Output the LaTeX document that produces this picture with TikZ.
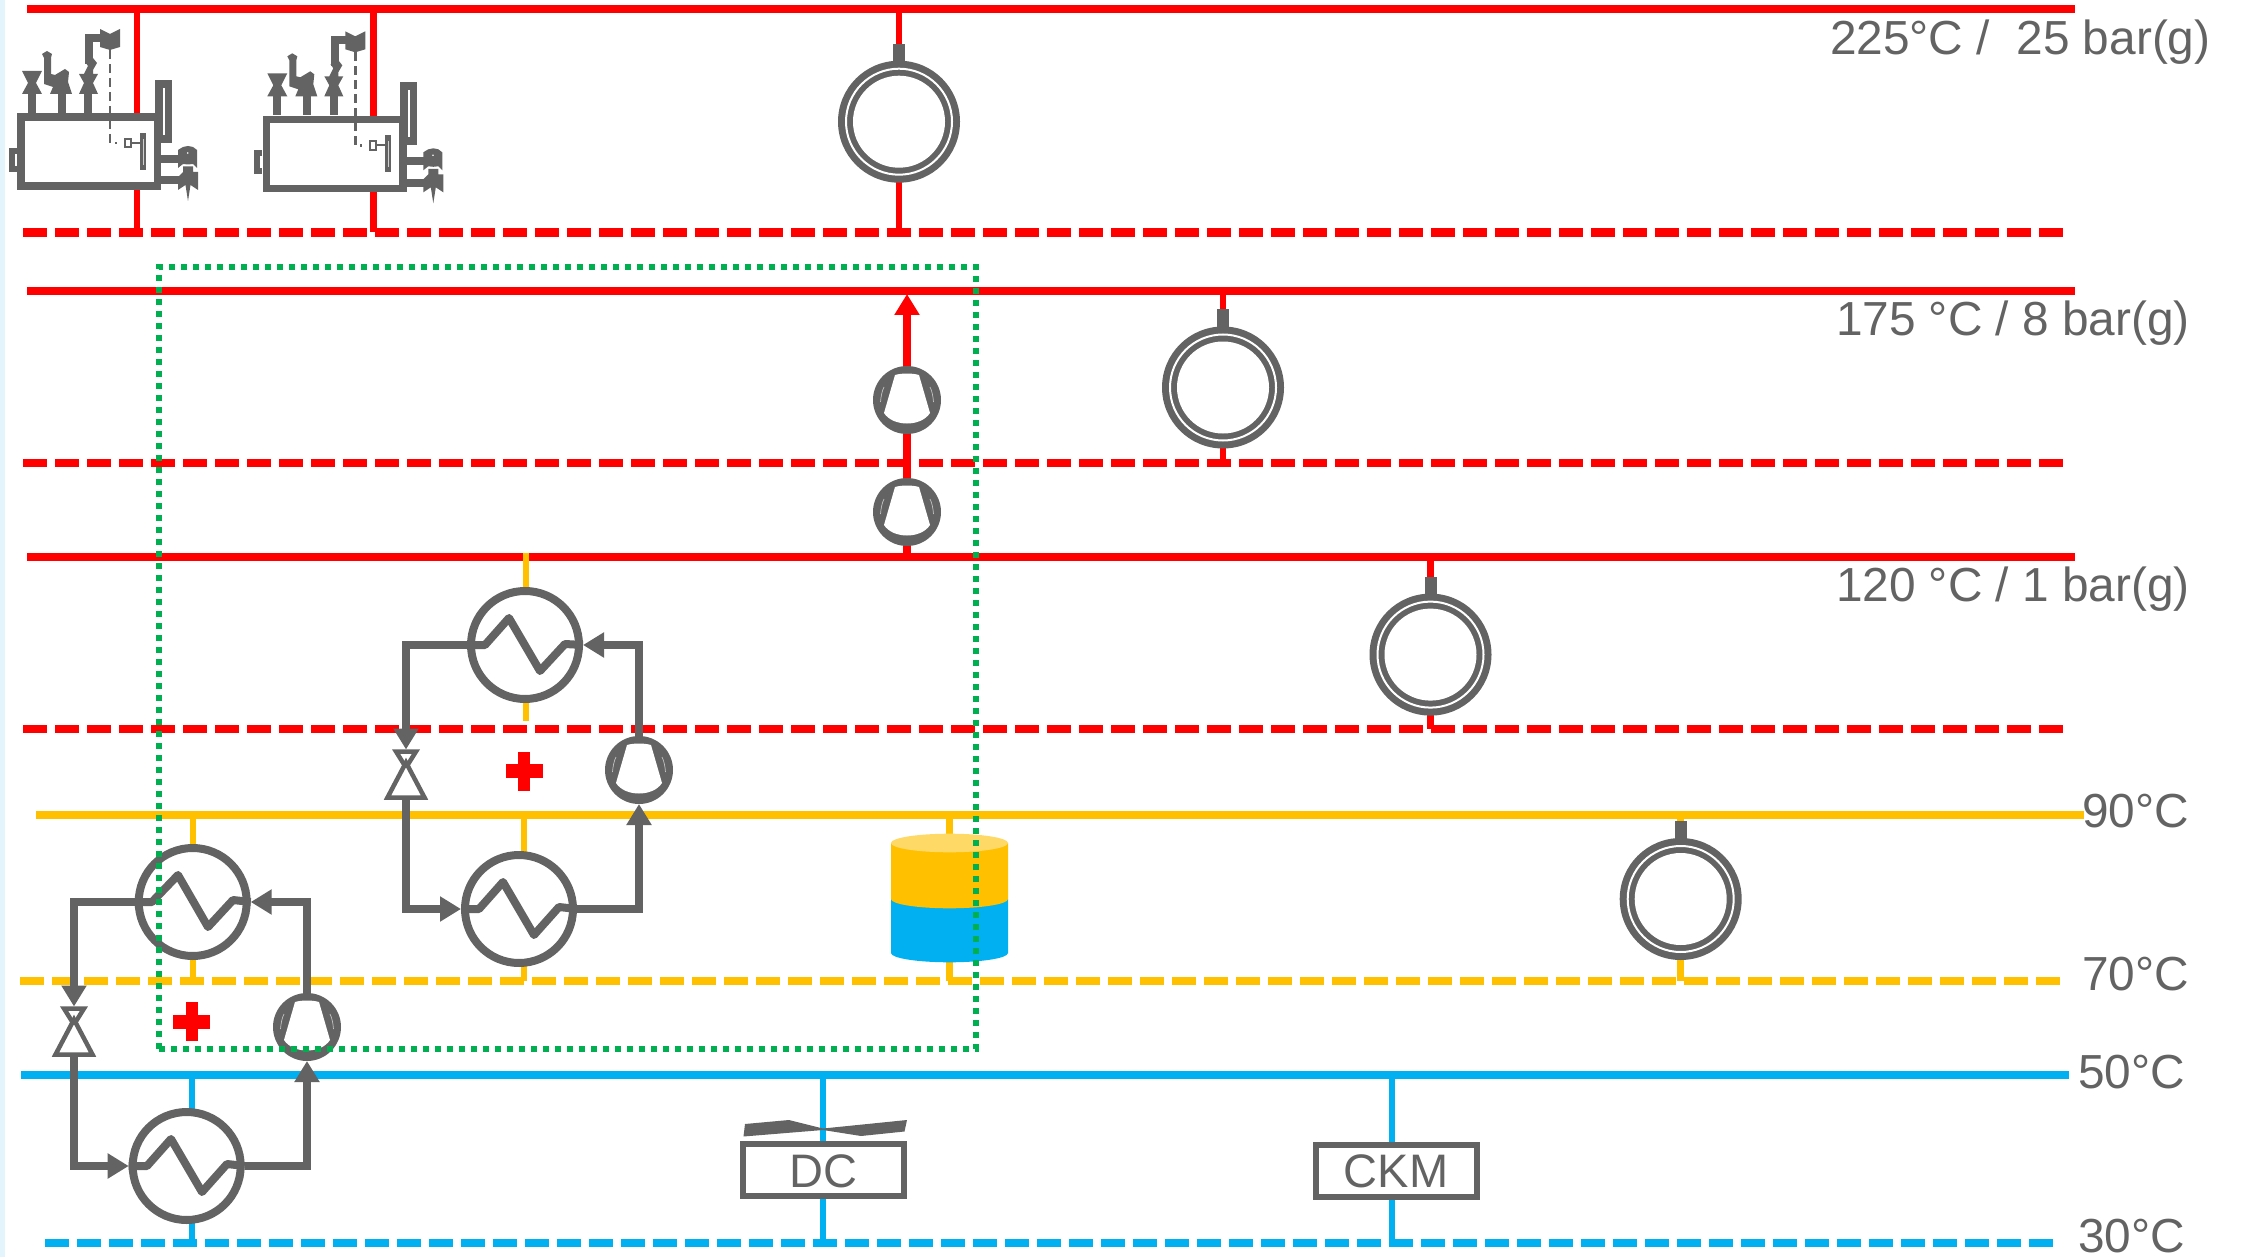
\documentclass[tikz,border=0pt]{standalone}
\usepackage{fontspec}
\setmainfont{Liberation Sans}
\usetikzlibrary{arrows.meta,calc}
\definecolor{cgray}{HTML}{636363}
\definecolor{cred}{HTML}{FF0000}
\definecolor{corange}{HTML}{FFC000}
\definecolor{cblue}{HTML}{00B0F0}
\definecolor{cgreen}{HTML}{00B050}
\definecolor{clight}{HTML}{FFD966}
\definecolor{cstrip}{HTML}{E3F4FC}
\tikzset{
  main/.style={line width=8.6pt},
  dsh/.style={line width=8.6pt,dash pattern=on 24pt off 8pt},
  stem/.style={line width=6.5pt},
  pipe/.style={draw=cgray,line width=8pt},
  arrowpipe/.style={pipe,-{Triangle[length=21pt,width=24pt]}},
  zig/.style={pipe,line join=round},
  hxnode/.style={circle,draw=cgray,fill=white,line width=8pt,minimum size=108pt,inner sep=0pt},
  compnode/.style={circle,fill=cgray,minimum size=68pt,inner sep=0pt,outer sep=0pt},
  drumnode/.style={circle,fill=cgray,minimum size=122pt,inner sep=0pt,outer sep=0pt},
  valvebox/.style={rectangle,minimum width=40pt,minimum height=50pt,inner sep=0pt,outer sep=0pt},
  valveline/.style={draw=cgray,line width=4.5pt,fill=white,line join=miter},
  lab/.style={anchor=base west,inner sep=0pt,outer sep=0pt,text=cgray,font=\fontsize{47.8}{50}\selectfont},
  boxnode/.style={draw=cgray,fill=white,line width=6pt,minimum height=52pt,minimum width=161pt,inner sep=0pt,text=cgray,text height=34pt,text depth=0pt,font=\fontsize{47}{50}\selectfont},
  gfill/.style={fill=cgray,draw=none},
  boilerbody/.style={draw=cgray,fill=white,line width=7.5pt,minimum width=136.5pt,minimum height=69pt,inner sep=0pt,outer sep=0pt},
}
% compressor internals
\newcommand{\compinner}[1]{%
  \begin{scope}[shift={(#1.center)}]
    \fill[white] (-12,-25) .. controls (-5,-27) and (5,-27) .. (12,-25) -- (23,13)
      .. controls (14,27) and (-14,27) .. (-23,13) -- cycle;
    \draw[white!60!cgray,line width=0.7pt] (-26.5,2) .. controls (-26,-4) and (-25,-9) .. (-23,-13);
    \draw[white!60!cgray,line width=0.7pt] (26.5,2) .. controls (26,-4) and (25,-9) .. (23,-13);
  \end{scope}}
% steam drum
\newcommand{\drumdraw}[3]{%
  \node[drumnode] (#1) at (#2,#3) {};
  \draw[white,line width=2pt] (#1.center) circle (53pt);
  \fill[white] (#1.center) circle (46pt);
  \fill[cgray] ($(#1.north)+(-6,3)$) rectangle ($(#1.north)+(6,-17)$);}
% expansion valve
\newcommand{\valvedraw}[1]{%
  \begin{scope}[shift={(#1.center)}]
    \path[valveline] (-10,-23) -- (10,-23) -- (0,-7) -- cycle;
    \path[valveline] (0,-12) -- (18.5,23) -- (-18.5,23) -- cycle;
  \end{scope}}
% plus sign
\newcommand{\plusdraw}[2]{%
  \fill[cred] (#1-6,#2-19.5) rectangle (#1+6,#2+19.5);
  \fill[cred] (#1-18.5,#2-7) rectangle (#1+18.5,#2+7);}
% boiler
\newcommand{\boilerdraw}[1]{%
  \node[boilerbody] (#1) at (89.25,151.5) {};
  % right tall box
  \fill[cgray] (155,80) rectangle (172,143);
  \fill[white] (162.5,88) rectangle (164.7,135);
  % left tab
  \fill[cgray] (9,148) rectangle (17,172);
  \fill[white] (15,154) rectangle (16.6,166);
  % top stubs
  \fill[cgray] (28,94) rectangle (36,113);
  \fill[cgray] (57.5,94) rectangle (65.5,113);
  \fill[cgray] (84.3,94) rectangle (92.3,113);
  % first valve
  \path[gfill] (22,71) -- (42,71) -- (36,83) -- (42,94) -- (22,94) -- (28,83) -- cycle;
  % second valve
  \path[gfill] (44,58) -- (42,54) -- (47,51) -- (52,54) -- (51,58) -- (51,74) -- (55,75) -- (65,69) -- (69,72) -- (68,82) -- (72,94) -- (50,94) -- (53,87) -- (44,84) -- cycle;
  % third valve with riser
  \path[gfill] (85.3,62) -- (93,58) -- (97,63) -- (93,70) -- (93,74) -- (98,74) -- (93,83) -- (98,94) -- (79,94) -- (84,83) -- (79,74) -- (84,74) -- (88,66) -- cycle;
  \draw[cgray,line width=8pt] (89.3,64) -- (89.3,38) -- (101,38);
  \path[gfill] (100,29) -- (110,34) -- (120,29) -- (120,47) -- (110,50) -- (100,47) -- cycle;
  % sensor line
  \draw[cgray,line width=2.5pt,dash pattern=on 9pt off 5pt] (110,50) -- (110,143) -- (117,143);
  \draw[cgray,line width=2pt] (125,139) rectangle (130.5,147.5);
  \draw[cgray,line width=2pt] (130.5,143) -- (140,143);
  \fill[cgray] (140,133) rectangle (146,170);
  \fill[white!70!cgray] (142.6,139) rectangle (143.4,165);
  % right connections
  \draw[cgray,line width=8pt] (161,159) -- (180,159);
  \draw[cgray,line width=8pt] (161,180.5) -- (180,180.5);
  \path[gfill] (178,150) -- (183,147) -- (188,146) -- (193,147) -- (197,150) -- (197,168) -- (193,164) -- (188,164.5) -- (183,164) -- (178,168) -- cycle;
  \fill[white] (187.7,153) circle (0.9pt);
  \path[gfill] (178,177) -- (183,172) -- (183,166.5) -- (193,166.5) -- (193,172) -- (198,172) -- (198,190) -- (190.5,185) -- (188,201) -- (185.5,185) -- (178,190) -- cycle;}
\begin{document}
\begin{tikzpicture}[x=1pt,y=-1pt]
\useasboundingbox (0,0) rectangle (2241,1257);
\fill[cstrip] (0,0) rectangle (5,1257);

% header lines
\coordinate (hR1) at (27,9);    \coordinate (hR1e) at (2075,9);
\coordinate (dR1) at (23.3,232.5); \coordinate (dR1e) at (2063.3,232.5);
\coordinate (hR2) at (27,291);  \coordinate (hR2e) at (2075,291);
\coordinate (dR2) at (23.3,463); \coordinate (dR2e) at (2063.3,463);
\coordinate (hR3) at (27,557);  \coordinate (hR3e) at (2075,557);
\coordinate (dR3) at (23.3,729); \coordinate (dR3e) at (2063.3,729);
\coordinate (hO) at (36,815);   \coordinate (hOe) at (2084,815);
\coordinate (dO) at (20,981);   \coordinate (dOe) at (2060,981);
\coordinate (hB) at (21,1075);  \coordinate (hBe) at (2069,1075);
\coordinate (dB) at (44.7,1243); \coordinate (dBe) at (2052.7,1243);

\draw[main,cred] (hR1) -- (hR1e);
\draw[dsh,cred] (dR1) -- (dR1e);
\draw[main,cred] (hR2) -- (hR2e);
\draw[dsh,cred] (dR2) -- (dR2e);
\draw[main,cred] (hR3) -- (hR3e);
\draw[dsh,cred] (dR3) -- (dR3e);
\draw[main,corange] (hO) -- (hOe);
\draw[dsh,corange] (dO) -- (dOe);
\draw[main,cblue] (hB) -- (hBe);
\draw[dsh,cblue] (dB) -- (dBe);

% labels
\node[lab] (t225) at (1830,55) {225°C /\ \ 25 bar(g)};
\node[lab] (t175) at (1836,335) {175 °C / 8 bar(g)};
\node[lab] (t120) at (1836,601) {120 °C / 1 bar(g)};
\node[lab] (t90) at (2082,827) {90°C};
\node[lab] (t70) at (2082,990) {70°C};
\node[lab] (t50) at (2078,1088) {50°C};
\node[lab] (t30) at (2078,1252.5) {30°C};

% boilers
\coordinate (sb1) at (137,0);
\coordinate (sb2) at (373.3,0);
\draw[stem,cred] (sb1|-hR1) -- (sb1|-dR1);
\draw[stem,cred] (sb2|-hR1) -- (sb2|-dR1);
\boilerdraw{bA}
\begin{scope}[shift={(245.3,2.3)}]
\boilerdraw{bB}
\end{scope}

% drums
\coordinate (dm1) at (899,0);
\coordinate (dm2) at (1223,0);
\coordinate (dm3) at (1430.5,0);
\coordinate (dm4) at (1680.7,0);
\draw[stem,cred] (dm1|-hR1) -- (dm1|-dR1);
\draw[stem,cred] (dm2|-hR2) -- (dm2|-dR2);
\draw[stem,cred] (dm3|-hR3) -- (dm3|-dR3);
\draw[stem,corange] (dm4|-hO) -- (dm4|-dO);
\drumdraw{drumA}{899}{121.7}
\drumdraw{drumB}{1223}{387.5}
\drumdraw{drumC}{1430.5}{654.6}
\drumdraw{drumD}{1680.7}{899}

% steam compressors
\node[compnode] (cS2) at (907,400) {};
\node[compnode] (cS1) at (907,512) {};
\coordinate (sc) at (907,0);
\draw[main,cred] (sc|-hR3) -- (cS1.south);
\draw[main,cred] (cS1.north) -- (cS2.south);
\draw[main,cred,-{Triangle[length=21pt,width=24pt]}] (cS2.north) -- ($(sc|-hR2)+(0,3)$);
\compinner{cS2}
\compinner{cS1}

% tank
\coordinate (tk) at (949.5,0);
\draw[stem,corange] (tk|-hO) -- (949.5,845);
\draw[stem,corange] (949.5,955) -- (tk|-dO);
\fill[cblue] (891,899) -- (891,953) arc[start angle=180,end angle=360,x radius=58.5,y radius=-9.3] -- (1008,899) -- cycle;
\fill[corange] (891,843) -- (891,899) arc[start angle=180,end angle=360,x radius=58.5,y radius=-9.3] -- (1008,843) -- cycle;
\fill[clight] (949.5,843) ellipse[x radius=58.5,y radius=9.3];

% heat pump A (low)
\coordinate (sAt) at (193,0);
\coordinate (sAb) at (192,0);
\draw[stem,corange] (sAt|-hO) -- (sAt|-dO);
\draw[stem,cblue] (sAb|-hB) -- (sAb|-dB);
\node[hxnode] (hxA) at (192.7,902) {};
\node[hxnode] (hxB) at (186.7,1166) {};
\node[compnode] (cA) at (307,1027) {};
\node[valvebox] (vA) at (74,1031.5) {};
\valvedraw{vA}
\compinner{cA}
\draw[zig] (hxA.west) -- (152,902) -- (178,875) -- (208,927) -- (233,900) -- (hxA.east);
\draw[zig] (hxB.west) -- (147,1166) -- (171,1139) -- (202,1192) -- (227,1164) -- (hxB.east);
\draw[arrowpipe] (hxA.west) -| (vA.north);
\draw[arrowpipe] (vA.south) |- (hxB.west);
\draw[arrowpipe] (hxB.east) -| (cA.south);
\draw[arrowpipe] (cA.north) |- (hxA.east);
\plusdraw{191.7}{1021.5}

% heat pump B (high)
\coordinate (sBb) at (524,0);
\draw[stem,corange] (526,553) -- (526,721);
\draw[stem,corange] (sBb|-hO) -- (sBb|-dO);
\node[hxnode] (hxC) at (525,645) {};
\node[hxnode] (hxD) at (519,909) {};
\node[compnode] (cB) at (639,770) {};
\node[valvebox] (vB) at (406,774.5) {};
\valvedraw{vB}
\compinner{cB}
\draw[zig] (hxC.west) -- (485,645) -- (509,618) -- (540,671) -- (565,644) -- (hxC.east);
\draw[zig] (hxD.west) -- (479,909) -- (503,882) -- (534,935) -- (559,907) -- (hxD.east);
\draw[arrowpipe] (hxC.west) -| (vB.north);
\draw[arrowpipe] (vB.south) |- (hxD.west);
\draw[arrowpipe] (hxD.east) -| (cB.south);
\draw[arrowpipe] (cB.north) |- (hxC.east);
\plusdraw{524}{771}

% dry cooler and chiller
\coordinate (sdc) at (823,0);
\coordinate (sck) at (1392,0);
\draw[stem,cblue] (sdc|-hB) -- (sdc|-dB);
\draw[stem,cblue] (sck|-hB) -- (sck|-dB);
\node[boxnode] (dc) at (823.5,1170) {DC};
\node[boxnode] (ckm) at (1396,1170.5) {CKM};
\path[gfill] (745,1124) -- (789,1120) -- (823,1128.5) -- (907,1120) -- (904.5,1131.5) -- (861,1136) -- (823,1130) -- (743.5,1136.5) -- cycle;

% system boundary
\draw[cgreen,line width=6pt,dash pattern=on 6pt off 6pt] (159,1049) -- (976,1049) -- (976,267) -- (159,267) -- cycle;
\end{tikzpicture}
\end{document}
